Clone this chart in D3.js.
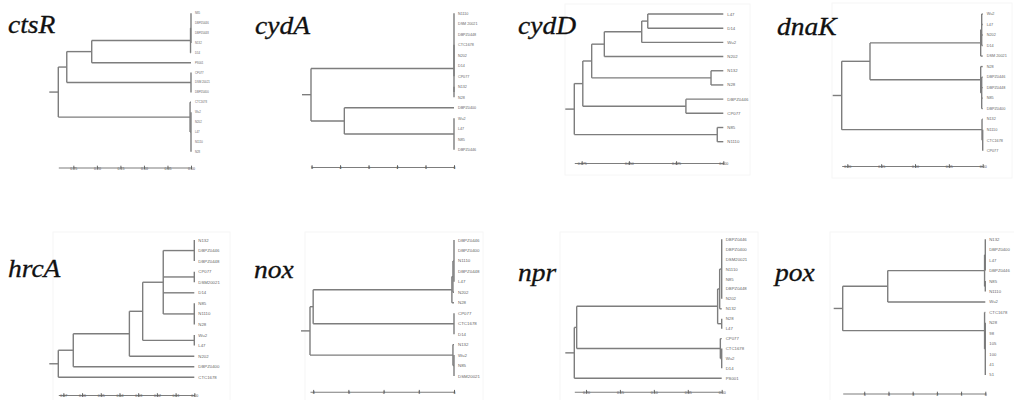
<!DOCTYPE html>
<html>
<head>
<meta charset="utf-8">
<script src="https://cdn.jsdelivr.net/npm/d3@7"></script>
<style>
  html, body { margin: 0; padding: 0; background: #fff; }
  svg { display: block; }
  .gene-name { font-family: "Liberation Serif", "Times New Roman", "DejaVu Serif", serif; font-style: italic; }
  .strain, .tick text { font-family: "Liberation Sans", Arial, sans-serif; }
</style>
</head>
<body>
<svg id="chart" width="1014" height="400"></svg>
<script>
// UPGMA trees, one per gene. Internal node = [height, ...children]; leaf = strain name.
const ctsRTree = [0.282,
  [0.264,
    [0.211, [0.001, [0, "N85", "DBPZ0446", "DBPZ0448", "N132"], "D14"], "PS001"],
    [0, "CP077", "DSM 20021", "DBPZ0400"]],
  [0.002, "CTC1678", [0, "Wu2", "N202", "L47", "N1110", "N28"]]];

const cydATree = [5.02,
  [0, [0, "N1110", "DSM 20021", "DBPZ0448", "CTC1678", "N202", "D14", "CP077"], [0, "N132", "N28"]],
  [3.85, "DBPZ0400", [0, "Wu2", "L47", "N85", "DBPZ0446"]]];

const cydDTree = [0.0789,
  [0.0744,
    [0.0697,
      [0.063, [0.0432, [0.040, "L47", "D14"], "Wu2"], "N202"],
      [0.0065, "N132", "N28"]],
    [0.0198, "DBPZ0446", "CP077"]],
  [0.0032, "N85", "N1110"]];

const dnaKTree = [0.2083,
  [0.1665,
    [0.003, [0.0015, "Wu2", "L47", "N202", "D14"], "DSM 20021"],
    [0.003, "N28", [0.0015, "DBPZ0446", "DBPZ0448", "N85", "DBPZ0400"]]],
  [0.001, "N132", [0, "N1110", "CTC1678", "CP077"]]];

const hrcATree = [0.0727,
  [0.0647,
    [0.0347,
      [0.0276,
        [0.0166,
          [0, "N132", "DBPZ0446", "DBPZ0448"],
          [0, "CP077", "DSM20021"],
          "D14",
          [0, "N85", "N1110", "N28"]],
        [0, "Wu2", "L47"]],
      "N202"],
    "DBPZ0400"],
  "CTC1678"];

const noxTree = [4.09,
  [4.0,
    [0.06, [0.03, [0, "DBPZ0446", "DBPZ0400", "N1110", "DBPZ0448", "L47"], "N202"], "N28"],
    [0, "CP077", "CTC1678", "D14"]],
  [0.03, "N132", [0, "Wu2", "N85", "DSM20021"]]];

const nprTree = [0.2172,
  [0.2137,
    [0.006,
      [0.003, [0, "DBPZ0446", "DBPZ0400", "DSM20021", "N1110", "N85", "DBPZ0448", "N202"], "N132"],
      [0, "N28", "L47"]],
    [0.002, "CP077", [0, "CTC1678", "Wu2", "D14"]]],
  "PS001"];

const poxTree = [5.89,
  [4.03,
    [0.03, [0, "N132", "DBPZ0400", "L47", "DBPZ0446"], [0, "N85", "N1110"]],
    "Wu2"],
  [0.03, "CTC1678", [0, "N28", "98", "105", "100", "41", "51"]]];

// Scale-bar tick values per tree
const ctsRTicks = [0.25, 0.20, 0.15, 0.10, 0.05, 0.00];
const cydATicks = [5, 4, 3, 2, 1, 0];
const cydDTicks = [0.075, 0.050, 0.025, 0.000];
const dnaKTicks = [0.20, 0.15, 0.10, 0.05, 0.00];
const hrcATicks = [0.07, 0.06, 0.05, 0.04, 0.03, 0.02, 0.01, 0.00];
const noxTicks = [4, 3, 2, 1, 0];
const nprTicks = [0.20, 0.15, 0.10, 0.05, 0.00];
const poxTicks = [5, 4, 3, 2, 1, 0];

// Panel placement
const panels = [
  { gene: "ctsR", tree: ctsRTree, ticks: ctsRTicks, fmt: ".2f", x0: 58.3, x1: 191,   yTop: 13.3,  yBot: 151.7, axisY: 167.5, leafFont: 2.8, title: [8, 33] },
  { gene: "cydA", tree: cydATree, ticks: cydATicks, fmt: "d",   x0: 311,  x1: 454,   yTop: 13.3,  yBot: 149.8, axisY: 167,   leafFont: 3.7, title: [255, 34] },
  { gene: "cydD", tree: cydDTree, ticks: cydDTicks, fmt: ".3f", x0: 574.3, x1: 723.3, yTop: 14,   yBot: 141.7, axisY: 163,   leafFont: 4.3, title: [518, 34], frame: [565, 4, 750, 175] },
  { gene: "dnaK", tree: dnaKTree, ticks: dnaKTicks, fmt: ".2f", x0: 841.7, x1: 982.7, yTop: 14,   yBot: 150.7, axisY: 166,   leafFont: 3.8, title: [777, 35], frame: [832, 3, 1012, 178] },
  { gene: "hrcA", tree: hrcATree, ticks: hrcATicks, fmt: ".2f", x0: 58.3, x1: 194.3, yTop: 240,   yBot: 377.3, axisY: 395,   leafFont: 4.3, title: [8, 276.5], frame: [53, 232, 230, 402] },
  { gene: "nox",  tree: noxTree,  ticks: noxTicks,  fmt: "d",   x0: 310,  x1: 454,   yTop: 240,   yBot: 376,   axisY: 391.7, leafFont: 4.4, title: [254, 278], frame: [305, 232, 483, 402] },
  { gene: "npr",  tree: nprTree,  ticks: nprTicks,  fmt: ".2f", x0: 574.3, x1: 721.7, yTop: 239.3, yBot: 378.3, axisY: 391.7, leafFont: 4.3, title: [518, 281], frame: [560, 232, 758, 402] },
  { gene: "pox",  tree: poxTree,  ticks: poxTicks,  fmt: "d",   x0: 842.7, x1: 985.3, yTop: 239.3, yBot: 375,  axisY: 393.5, leafFont: 4.2, title: [775, 281], frame: [830, 232, 1016, 402] }
];

const LINE = "#7d7d7d";
const svg = d3.select("#chart");

panels.forEach(p => {
  const g = svg.append("g").attr("class", "tree " + p.gene);

  if (p.frame) {
    g.append("rect")
      .attr("x", p.frame[0]).attr("y", p.frame[1])
      .attr("width", p.frame[2] - p.frame[0]).attr("height", p.frame[3] - p.frame[1])
      .attr("fill", "none").attr("stroke", "#f6f6f6").attr("stroke-width", 1);
  }

  // hierarchy: children are array elements after the height
  const root = d3.hierarchy(p.tree, d => Array.isArray(d) ? d.slice(1) : null);
  root.each(n => { n.h = Array.isArray(n.data) ? n.data[0] : 0; });
  let k = 0;
  root.eachAfter(n => {
    if (!n.children) n.idx = k++;
    else n.idx = (n.children[0].idx + n.children[n.children.length - 1].idx) / 2;
  });
  const nLeaves = k;

  const x = d3.scaleLinear().domain([root.h, 0]).range([p.x0, p.x1]);
  const y = d3.scaleLinear().domain([0, nLeaves - 1]).range([p.yTop, p.yBot]);

  const branches = g.append("g")
    .attr("fill", "none").attr("stroke", LINE).attr("stroke-width", 1.4);

  // root stub
  branches.append("line")
    .attr("x1", x(root.h) - 9).attr("x2", x(root.h))
    .attr("y1", y(root.idx)).attr("y2", y(root.idx));

  root.descendants().filter(n => n.children).forEach(n => {
    const kids = n.children;
    branches.append("line")
      .attr("x1", x(n.h)).attr("x2", x(n.h))
      .attr("y1", y(kids[0].idx)).attr("y2", y(kids[kids.length - 1].idx));
    kids.forEach(c => {
      if (x(c.h) - x(n.h) > 0.01) {
        branches.append("line")
          .attr("x1", x(n.h)).attr("x2", x(c.h))
          .attr("y1", y(c.idx)).attr("y2", y(c.idx));
      }
    });
  });

  // strain labels
  g.append("g").selectAll("text")
    .data(root.leaves())
    .join("text")
    .attr("class", "strain")
    .attr("x", p.x1 + 4)
    .attr("y", d => y(d.idx))
    .attr("dy", "0.35em")
    .attr("font-size", p.leafFont)
    .attr("fill", "#666")
    .text(d => d.data);

  // distance scale bar
  const axis = d3.axisBottom(x)
    .tickValues(p.ticks)
    .tickFormat(d3.format(p.fmt))
    .tickSize(3)
    .tickSizeOuter(0);
  const ax = g.append("g")
    .attr("transform", `translate(0,${p.axisY})`)
    .call(axis);
  ax.attr("font-family", null);
  ax.select(".domain").attr("stroke", LINE).attr("stroke-width", 1.1);
  ax.selectAll(".tick line").attr("stroke", "#666").attr("y1", -1.8).attr("y2", 1.8);
  ax.selectAll(".tick text")
    .attr("y", 1).attr("dy", "0.35em")
    .attr("font-size", 3.6)
    .attr("fill", "#555");

  // gene name
  g.append("text")
    .attr("class", "gene-name")
    .attr("transform", `translate(${p.title[0]},${p.title[1]}) scale(1.1,1)`)
    .attr("font-size", 25)
    .attr("fill", "#111")
    .attr("stroke", "#111")
    .attr("stroke-width", 0.3)
    .text(p.gene);
});
</script>
</body>
</html>
